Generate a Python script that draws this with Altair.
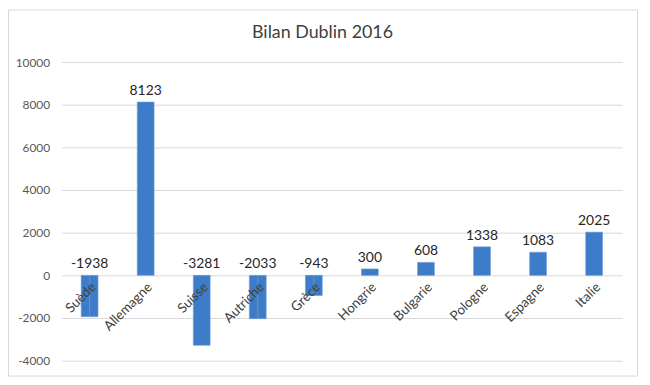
import altair as alt
import pandas as pd

countries = ["Suède", "Allemagne", "Suisse", "Autriche", "Grèce", "Hongrie",
             "Bulgarie", "Pologne", "Espagne", "Italie"]
values = [-1938, 8123, -3281, -2033, -943, 300, 608, 1338, 1083, 2025]
leader = [1, 0, 0, 1, 1, 0, 0, 0, 0, 0]
y_ticks = [-4000, -2000, 0, 2000, 4000, 6000, 8000, 10000]
title_text = "Bilan Dublin 2016"

df = pd.DataFrame({"country": countries, "value": values, "leader": leader})
df["labely"] = df["value"].clip(lower=0)
df["label"] = [str(v) for v in values]
df["zero"] = 0

FONT = "Lato"
W, H = 565, 301

xenc = alt.X("country:N", sort=countries,
             scale=alt.Scale(paddingInner=0.7, paddingOuter=0.35), axis=None)
yscale = alt.Scale(domain=[-4000, 10000], nice=False)

base = alt.Chart(df)
one = "datum.country == 'Suède'"

frame = base.mark_rect(fill="transparent", stroke="#d9d9d9", strokeWidth=1).encode(
    x=alt.value(-53.5), x2=alt.value(580.5), y=alt.value(-52.5), y2=alt.value(316.5)
).transform_filter(one)

title = base.mark_text(font=FONT, fontSize=18, color="#404040").encode(
    x=alt.value(263), y=alt.value(-29), text=alt.value(title_text)
).transform_filter(one)

bars = base.mark_bar(color="#3d7cc9", stroke="#6a9ad6", strokeWidth=0.6).encode(
    x=xenc,
    y=alt.Y("value:Q", scale=yscale,
            axis=alt.Axis(values=y_ticks, title=None, domain=False, ticks=False,
                          grid=True, gridColor="#d9d9d9", labelFont=FONT,
                          labelFontSize=12, labelColor="#595959", labelPadding=12,
                          labelExpr="'' + datum.value")),
)

leaders = base.mark_rule(color="#8c8c8c", strokeWidth=1).encode(
    x=xenc, y=alt.Y("zero:Q", scale=yscale), y2="value:Q"
).transform_filter("datum.leader == 1")

vlabels = base.mark_text(font=FONT, fontSize=14, color="#262626",
                         baseline="bottom", dy=-4).encode(
    x=xenc, y=alt.Y("labely:Q", scale=yscale), text="label:N"
)

clabels = base.mark_text(font=FONT, fontSize=13.5, color="#404040", angle=315,
                         align="right", baseline="middle", dx=-4, dy=10).encode(
    x=xenc, y=alt.Y("zero:Q", scale=yscale), text="country:N"
)

chart = alt.layer(frame, title, bars, leaders, vlabels, clabels).properties(
    width=W, height=H,
    autosize=alt.AutoSizeParams(type="none"),
    padding={"left": 54, "top": 53, "right": 20, "bottom": 18},
    background="white",
).configure_view(stroke=None)

chart.save("out.html", embed_options={"renderer": "svg", "actions": False})
